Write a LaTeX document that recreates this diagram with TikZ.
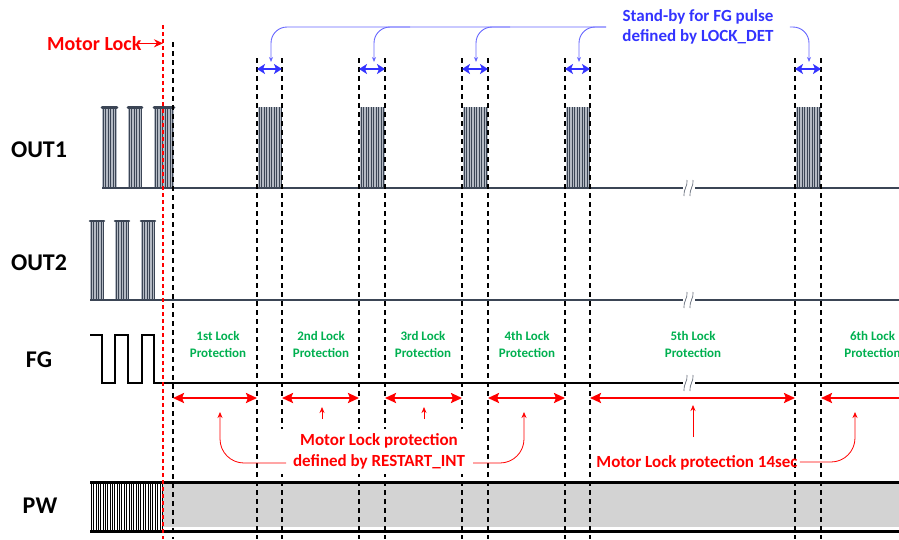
\documentclass[tikz,border=0pt]{standalone}
\usepackage{fontspec}
\setmainfont{Carlito}
\usetikzlibrary{arrows.meta}
\definecolor{sig}{HTML}{3B4555}
\definecolor{plight}{HTML}{B4BAC4}
\definecolor{gtxt}{HTML}{00B050}
\definecolor{btxt}{HTML}{3333FF}
\definecolor{bline}{HTML}{6666FF}
\definecolor{pwgray}{HTML}{D3D3D3}
\newcommand\mkburst[5]{%
  \fill[plight] (#1,#3) rectangle (#2,#4);
  \foreach \ii [evaluate=\ii as \xx using #1+1.2+\ii*2.5] in {0,...,#5}
    \draw[sig, line width=1.1pt] (\xx,#3) -- (\xx,#4);
}
\newcommand\mkbreak[1]{%
  \fill[white] (683,#1-2) rectangle (695,#1+2);
  \draw[sig!80, line width=0.7pt] (684,#1+8) .. controls (683,#1+2) and (688,#1-2) .. (687,#1-8);
  \draw[sig!80, line width=0.7pt] (690,#1+8) .. controls (689,#1+2) and (694,#1-2) .. (693,#1-8);
}
\begin{document}
\begin{tikzpicture}[x=1pt,y=-1pt,
  lbl/.style={font=\fontsize{24}{28}\selectfont\bfseries, inner sep=0pt, anchor=base},
  gt/.style={font=\fontsize{13}{16.5}\selectfont\bfseries, text=gtxt, align=center, inner sep=0pt},
  rt/.style={font=\fontsize{17}{21}\selectfont\bfseries, text=red, align=center},
  vd/.style={black, line width=1.3pt, dash pattern=on 5pt off 4pt},
  rd/.style={red, line width=1.3pt, dash pattern=on 4pt off 3pt},
  rarr/.style={red, line width=2.2pt, {Stealth[length=11pt,width=10pt,inset=2pt]}-{Stealth[length=11pt,width=10pt,inset=2pt]}},
  rup/.style={red, line width=0.8pt, -{Stealth[length=6pt,width=5pt]}},
  barr/.style={btxt, line width=2.2pt, {Stealth[length=8pt,width=10pt,inset=2pt]}-{Stealth[length=8pt,width=10pt,inset=2pt]}},
  bdrop/.style={bline, line width=0.9pt, rounded corners=16pt, -{Stealth[length=5pt,width=4pt]}},
  sigl/.style={sig, line width=2.4pt},
]
\useasboundingbox (0,0) rectangle (899,539);
% time marks
\coordinate (bot) at (0,539);
\coordinate (ml0) at (163,25);
\coordinate (t0) at (173,42);
\coordinate (a1) at (257,58); \coordinate (b1) at (282,58);
\coordinate (a2) at (359,58); \coordinate (b2) at (385,58);
\coordinate (a3) at (462,58); \coordinate (b3) at (488,58);
\coordinate (a4) at (565,58); \coordinate (b4) at (590,58);
\coordinate (a5) at (795,58); \coordinate (b5) at (821,58);

% signal labels
\node[lbl] (o1) at (39,157) {OUT1};
\node[lbl] (o2) at (39,270) {OUT2};
\node[lbl] (fg) at (39,367) {FG};
\node[lbl] (pw) at (40,513) {PW};

% OUT1
\mkburst{102}{117}{108}{188}{5}
\mkburst{128}{142}{108}{188}{5}
\mkburst{154}{174}{108}{188}{7}
\foreach \xa/\xb in {102/117,128/142,154/174}
  \draw[sig, line width=2.6pt, line cap=round] (\xa,107.5) -- (\xb,107.5);
\mkburst{258}{282}{107}{188}{9}
\mkburst{360}{385}{107}{188}{9}
\mkburst{463}{488}{107}{188}{9}
\mkburst{566}{590}{107}{188}{9}
\mkburst{796}{821}{107}{188}{9}
\draw[sigl] (102,188) -- (899,188);
\mkbreak{188}

% OUT2
\mkburst{90}{104}{221}{300}{5}
\mkburst{115}{129}{221}{300}{5}
\mkburst{141}{155}{221}{300}{5}
\foreach \xa/\xb in {90/104,115/129,141/155}
  \draw[sig, line width=2.6pt, line cap=round] (\xa,221) -- (\xb,221);
\draw[sigl] (90,300) -- (899,300);
\mkbreak{300}

% FG
\draw[black, line width=2.6pt] (90,335) -- (102,335) -- (102,383) -- (115,383) -- (115,335) -- (128,335) -- (128,383) -- (142,383) -- (142,335) -- (154,335) -- (154,383) -- (899,383);
\mkbreak{383}

% PW
\fill[pwgray] (163,484) rectangle (899,527);
\foreach \x in {91,93.5,96,98,100.5,103,105,107.5,110,112,114.5,117,119.5,121.5,124,126.5,129,131,133.5,136,138.5,140.5,143,145.5,148,150,152.5,155,157.5,160,162}
  \draw[black, line width=0.6pt] (\x,482) -- (\x,531);
\draw[black, line width=3pt] (90,482) -- (899,482);
\draw[black, line width=3pt] (90,531) -- (899,531);

% dashed time lines
\draw[vd] (t0) -- (t0 |- bot);
\foreach \p in {a1,b1,a2,b2,a3,b3,a4,b4,a5,b5}
  \draw[vd] (\p) -- (\p |- bot);
\draw[rd] (ml0) -- (ml0 |- bot);

% green labels
\node[gt] (g1) at (218,344.5) {1st Lock\\Protection};
\node[gt] (g2) at (321,344.5) {2nd Lock\\Protection};
\node[gt] (g3) at (423,344.5) {3rd Lock\\Protection};
\node[gt] (g4) at (527,344.5) {4th Lock\\Protection};
\node[gt] (g5) at (693,344.5) {5th Lock\\Protection};
\node[gt] (g6) at (872.5,344.5) {6th Lock\\Protection};

% red interval arrows
\draw[rarr] (t0 |- 0,398) -- (a1 |- 0,398);
\draw[rarr] (b1 |- 0,398) -- (a2 |- 0,398);
\draw[rarr] (b2 |- 0,398) -- (a3 |- 0,398);
\draw[rarr] (b3 |- 0,398) -- (a4 |- 0,398);
\draw[rarr] (b4 |- 0,398) -- (a5 |- 0,398);
\draw[red, line width=2.2pt, {Stealth[length=11pt,width=10pt,inset=2pt]}-] (b5 |- 0,398) -- (905,398);

% red annotation text
\node[rt, fill=white, inner xsep=12pt, inner ysep=5pt] (rtx) at (379,451.5) {Motor Lock protection\\defined by RESTART\_INT};
\node[rt, inner sep=0pt, anchor=base] (rt2) at (697,467) {Motor Lock protection 14sec};
\coordinate (u1) at (220,412);
\coordinate (u2) at (322,407);
\coordinate (u3) at (424,407);
\coordinate (u4) at (524,412);
\coordinate (u5) at (693,405);
\coordinate (u6) at (855,412);
\draw[rup, rounded corners=24pt] (286,463) -| (u1);
\draw[rup] (u2 |- 0,419) -- (u2);
\draw[rup] (u3 |- 0,419) -- (u3);
\draw[rup, rounded corners=24pt] (473,463) -| (u4);
\draw[rup] (u5 |- 0,437) -- (u5);
\draw[rup, rounded corners=24pt] (rt2.east |- 0,462) ++(2,0) -| (u6);

% top Motor Lock label
\node[font=\fontsize{20}{24}\selectfont\bfseries, text=red, inner sep=0pt, anchor=base west] (ml) at (47,50.7) {Motor Lock};
\draw[red, line width=1.6pt, -{Stealth[length=9pt,width=8pt]}] (ml.east |- 0,43.3) ++(-5,0) -- (ml0 |- 0,43.3);

% blue stand-by annotation
\node[font=\fontsize{17}{20.5}\selectfont\bfseries, text=btxt, align=center, inner xsep=16pt, inner ysep=0pt] (bt) at (698,27) {Stand-by for FG pulse\\defined by LOCK\_DET};
\coordinate (d1) at (271,62);
\coordinate (d2) at (374,62);
\coordinate (d3) at (476,62);
\coordinate (d4) at (579,62);
\coordinate (d5) at (809,62);
\draw[bdrop] (bt.west) -| (d1);
\draw[bdrop] (410,27) -| (d2);
\draw[bdrop] (510,27) -| (d3);
\draw[bdrop] (bt.west) -| (d4);
\draw[bdrop] (bt.east) -| (d5);
\draw[barr] (a1 |- 0,69) -- (b1 |- 0,69);
\draw[barr] (a2 |- 0,69) -- (b2 |- 0,69);
\draw[barr] (a3 |- 0,69) -- (b3 |- 0,69);
\draw[barr] (a4 |- 0,69) -- (b4 |- 0,69);
\draw[barr] (a5 |- 0,69) -- (b5 |- 0,69);
\end{tikzpicture}
\end{document}
